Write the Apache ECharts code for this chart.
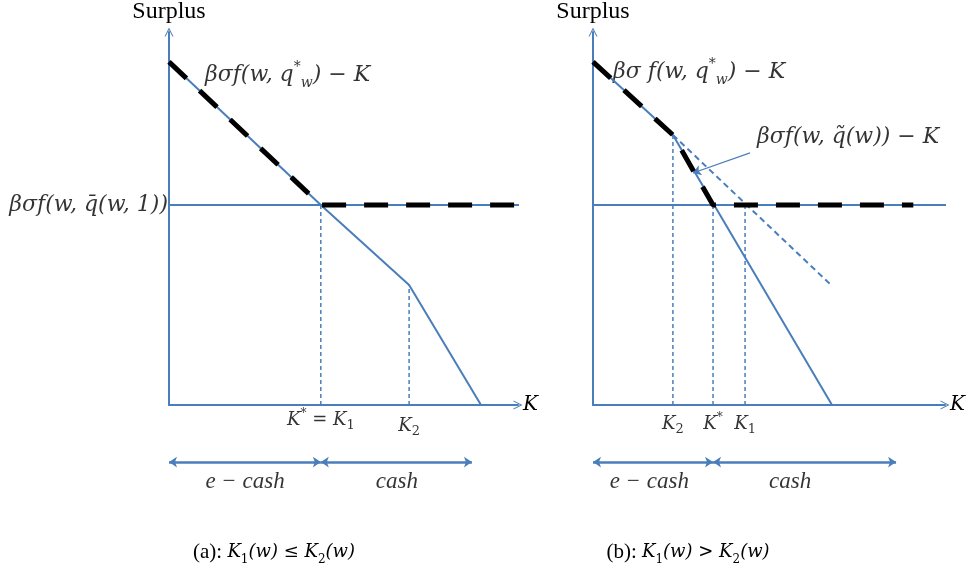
<!DOCTYPE html>
<html>
<head>
<meta charset="utf-8">
<script src="https://cdn.jsdelivr.net/npm/echarts@6/dist/echarts.min.js"></script>
<style>
  html, body { margin: 0; padding: 0; background: #fff; }
  #main { width: 969px; height: 579px; }
</style>
</head>
<body>
<div id="main"></div>
<script>
// panel (a): K1 <= K2   (K on x, surplus on y, both in 0..100 units)
const kA = [0, 43.5, 68.8, 89.4];
const surplusA = [92, 53.6, 32.2, 0];
const cashLevel = 53.6;
const envelopeA = [[0, 92], [43.5, 53.6], [99, 53.6]];
const dropsA = [[43.5, 53.6], [68.8, 32.2]];
const ticksA = [[43.5, 'K*=K1', 3], [68.8, 'K2', 9]];
const rangesA = [[0, 43.5], [43.5, 86.8]];
const rangeTextA = [[21.8, 'e − cash'], [65.3, 'cash']];

// panel (b): K1 > K2
const kB = [0, 22.7, 67.9];
const surplusB = [92, 72.4, 0];
const extensionB = [[22.7, 72.4], [67.6, 32.2]];
const envelopeB = [[0, 92], [22.7, 72.4], [34.1, 53.6], [91, 53.6]];
const dropsB = [[22.7, 72.4], [34.1, 53.6], [43.2, 53.6]];
const ticksB = [[22.7, 'K2', 7], [34.1, 'K*', 7], [43.2, 'K1', 7]];
const rangesB = [[0, 34.1], [34.1, 86.1]];
const rangeTextB = [[16, 'e − cash'], [56, 'cash']];

const blue = '#4a7ebb';
const serif = 'Liberation Serif';
const math = 'DejaVu Serif';
const rich = {
  m: { fontFamily: math, fontStyle: 'italic', fontSize: 22, lineHeight: 30, color: '#000' },
  sup: { fontFamily: math, fontStyle: 'italic', fontSize: 14, lineHeight: 13, verticalAlign: 'top', color: '#000' },
  sub: { fontFamily: math, fontStyle: 'italic', fontSize: 14, lineHeight: 13, verticalAlign: 'bottom', color: '#000' },
  t: { fontFamily: math, fontStyle: 'italic', fontSize: 18, lineHeight: 24, color: '#000' },
  tsup: { fontFamily: math, fontStyle: 'italic', fontSize: 12, lineHeight: 12, verticalAlign: 'top', color: '#000' },
  tsub: { fontFamily: math, fontSize: 13, lineHeight: 10, verticalAlign: 'bottom', color: '#000' },
  c: { fontFamily: serif, fontStyle: 'italic', fontSize: 23, lineHeight: 26, color: '#000' },
  r: { fontFamily: serif, fontSize: 21, lineHeight: 28, color: '#000' },
  cm: { fontFamily: math, fontStyle: 'italic', fontSize: 18, lineHeight: 28, color: '#000' },
  csub: { fontFamily: math, fontSize: 12, lineHeight: 12, verticalAlign: 'bottom', color: '#000' }
};

// turn "K*=K1" style labels into rich strings
function mathLabel(s) {
  const map = {
    'K*=K1': '{t|K}{tsup|*}{t| = K}{tsub|1}',
    'K*': '{t|K}{tsup|*}',
    'K1': '{t|K}{tsub|1}',
    'K2': '{t|K}{tsub|2}',
    'e − cash': '{c|e − cash}',
    'cash': '{c|cash}'
  };
  return map[s] || s;
}

const chevron = 'path://M0,10 L5,0 L10,10 L8.8,10 L5,2.4 L1.2,10 Z';

function axesFor(i, left, width) {
  return {
    grid: { left: left, top: 32, width: width, height: 373 },
    x: {
      type: 'value', gridIndex: i, min: 0, max: 100,
      name: 'K', nameLocation: 'end', nameGap: 5,
      nameTextStyle: { fontFamily: math, fontStyle: 'italic', fontSize: 20, color: '#000' },
      axisLine: { show: true, symbol: ['none', chevron], symbolSize: [12, 9], lineStyle: { color: blue, width: 2 } },
      axisTick: { show: false }, axisLabel: { show: false }, splitLine: { show: false }
    },
    y: {
      type: 'value', gridIndex: i, min: 0, max: 100,
      name: 'Surplus', nameLocation: 'end', nameGap: 8,
      nameTextStyle: { fontFamily: serif, fontSize: 24, color: '#000' },
      axisLine: { show: true, symbol: ['none', chevron], symbolSize: [12, 9], lineStyle: { color: blue, width: 2 } },
      axisTick: { show: false }, axisLabel: { show: false }, splitLine: { show: false }
    }
  };
}

const A = axesFor(0, 169, 349);
const B = axesFor(1, 593, 352);

function line(idx, data, style) {
  return {
    type: 'line', xAxisIndex: idx, yAxisIndex: idx, data: data,
    showSymbol: false, symbol: 'none', clip: false, silent: true,
    lineStyle: style
  };
}

function drops(idx, pts) {
  return pts.map(p => line(idx, [[p[0], 0], [p[0], p[1]]], { color: blue, width: 1.5, type: [4, 3] }));
}

function arrows(idx, ranges) {
  return {
    type: 'lines', coordinateSystem: 'cartesian2d', xAxisIndex: idx, yAxisIndex: idx,
    clip: false, silent: true, symbol: ['arrow', 'arrow'], symbolSize: 8,
    lineStyle: { color: blue, width: 2.5, opacity: 1 },
    data: ranges.map(r => ({ coords: [[r[0], -15.3], [r[1], -15.3]] }))
  };
}

function texts(idx, items) {
  return {
    type: 'scatter', xAxisIndex: idx, yAxisIndex: idx, symbolSize: 0, clip: false, silent: true,
    data: items.map(t => ({
      value: t.at,
      label: { show: true, position: t.pos, distance: t.dist || 0, formatter: t.text, rich: rich }
    }))
  };
}

const series = [
  // panel (a)
  line(0, [[0, cashLevel], [100.5, cashLevel]], { color: blue, width: 2 }),
  line(0, kA.map((k, i) => [k, surplusA[i]]), { color: blue, width: 2 }),
  ...drops(0, dropsA),
  line(0, envelopeA, { color: '#000', width: 5, type: [24, 18] }),
  arrows(0, rangesA),
  texts(0, [
    { at: [10.3, 88.5], pos: 'right', text: '{m|βσf(w, q}{sup|*}{sub|w}{m|) − K}' },
    { at: [0, cashLevel], pos: 'left', dist: 1, text: '{m|βσf(w, q̄(w, 1))}' },
    ...ticksA.map(t => ({ at: [t[0], 0], pos: 'bottom', dist: t[2], text: mathLabel(t[1]) })),
    ...rangeTextA.map(t => ({ at: [t[0], -20.6], pos: 'inside', text: mathLabel(t[1]) }))
  ]),
  // panel (b)
  line(1, [[0, cashLevel], [100.5, cashLevel]], { color: blue, width: 2 }),
  line(1, kB.map((k, i) => [k, surplusB[i]]), { color: blue, width: 2 }),
  line(1, extensionB, { color: blue, width: 2, type: [6, 4] }),
  ...drops(1, dropsB),
  line(1, envelopeB, { color: '#000', width: 5, type: [24, 18] }),
  arrows(1, rangesB),
  {
    type: 'lines', coordinateSystem: 'cartesian2d', xAxisIndex: 1, yAxisIndex: 1,
    clip: false, silent: true, symbol: ['none', 'arrow'], symbolSize: 8,
    lineStyle: { color: blue, width: 1.2, opacity: 1 },
    data: [{ coords: [[44.6, 67.6], [28.4, 62.2]] }]
  },
  texts(1, [
    { at: [5.7, 89.3], pos: 'right', text: '{m|βσ f(w, q}{sup|*}{sub|w}{m|) − K}' },
    { at: [46.6, 71.8], pos: 'right', text: '{m|βσf(w, q̃(w)) − K}' },
    ...ticksB.map(t => ({ at: [t[0], 0], pos: 'bottom', dist: t[2], text: mathLabel(t[1]) })),
    ...rangeTextB.map(t => ({ at: [t[0], -20.6], pos: 'inside', text: mathLabel(t[1]) }))
  ])
];

const chart = echarts.init(document.getElementById('main'));
chart.setOption({
  animation: false,
  backgroundColor: '#fff',
  grid: [A.grid, B.grid],
  xAxis: [A.x, B.x],
  yAxis: [A.y, B.y],
  series: series,
  graphic: [
    { type: 'text', x: 274, y: 552, style: { text: '{r|(a): }{cm|K}{csub|1}{cm|(w) ≤ K}{csub|2}{cm|(w)}', rich: rich, align: 'center', verticalAlign: 'middle' } },
    { type: 'text', x: 688, y: 552, style: { text: '{r|(b): }{cm|K}{csub|1}{cm|(w) > K}{csub|2}{cm|(w)}', rich: rich, align: 'center', verticalAlign: 'middle' } }
  ]
});
</script>
</body>
</html>
